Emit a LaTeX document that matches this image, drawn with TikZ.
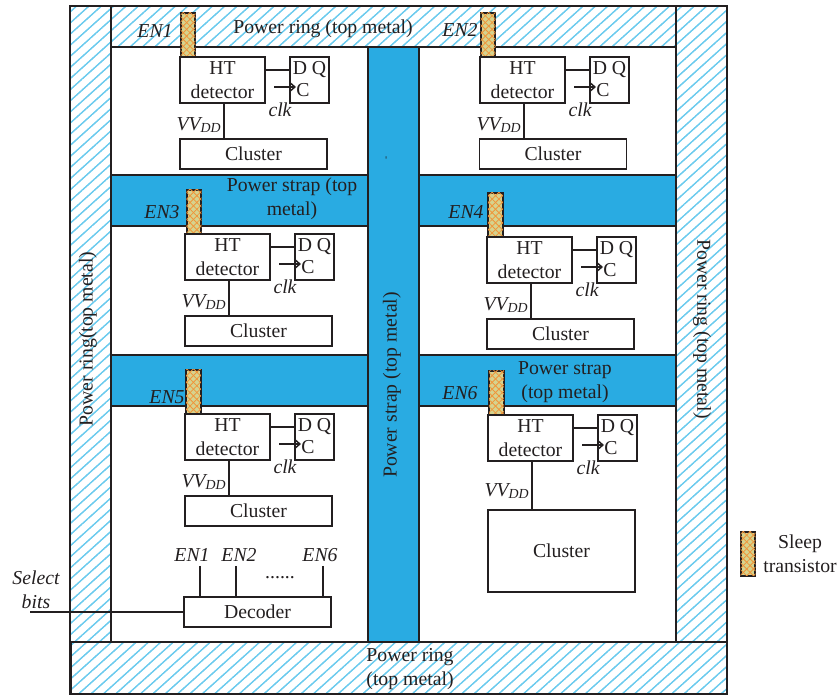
\documentclass[tikz,border=0pt]{standalone}
\usepackage{fontspec}
\setmainfont{Liberation Serif}
\usetikzlibrary{arrows.meta,patterns.meta}
\definecolor{hatchblue}{HTML}{6CCBEE}
\definecolor{strapblue}{HTML}{29ABE2}
\definecolor{sleepfill}{HTML}{D6D38E}
\definecolor{sleepline}{HTML}{F0953A}
\definecolor{inkgray}{HTML}{231F20}
\newcommand{\htunit}[4]{
  \begin{scope}[shift={(#2,#3)}]
    \node[box, minimum width=63.75pt, minimum height=34.5pt] (#1ht) at (42.5,23) {HT\\detector};
    \node[box, minimum width=29.25pt, minimum height=34.5pt] (#1ff) at (129.5,23) {};
    \node[lbl] (#1dq) at (129.5,13) {D Q};
    \node[lbl] (#1c)  at (123,33) {C};
    \node[ital] (#1clk) at (100,53) {clk};
    \node[ital] (#1vv)  at (19,#4) {$\mathit{VV}_{\mathit{DD}}$};
    \coordinate (#1cin) at (94,30);
    \coordinate (#1cend) at (116,30);
    \draw[wire] (#1ht.east |- #1dq) -- (#1ff.west |- #1dq);
    \draw[wire, -{Straight Barb[length=4pt,width=7pt]}] (#1cin) -- (#1cend);
  \end{scope}
}
\begin{document}
\begin{tikzpicture}[x=0.75pt, y=-0.75pt, font=\fontsize{14.8}{18}\selectfont, text=inkgray,
  ring/.style={draw=inkgray, line width=1.1pt, inner sep=0pt, pattern={Lines[angle=42,distance=6.2pt,line width=.9pt]}, pattern color=hatchblue},
  strap/.style={draw=inkgray, line width=1.1pt, fill=strapblue, inner sep=0pt},
  box/.style={draw=inkgray, line width=1.1pt, fill=white, align=center, inner sep=0pt},
  sleep/.style={draw=inkgray, line width=1.3pt, fill=sleepfill, inner sep=0pt, minimum width=11pt, minimum height=33pt,
    postaction={pattern={Lines[angle=45,distance=3.6pt,line width=.6pt]}, pattern color=sleepline},
    postaction={pattern={Lines[angle=-45,distance=3.6pt,line width=.6pt]}, pattern color=sleepline}},
  lbl/.style={inner sep=0pt, align=center},
  ital/.style={lbl, font=\fontsize{14.8}{18}\selectfont\itshape},
  wire/.style={draw=inkgray, line width=1.1pt}]
  \useasboundingbox (0,0) rectangle (840,698);
  \node[ring, minimum width=492.75pt, minimum height=516pt] (outer) at (398.5,350) {};
  \node[ring, minimum width=30.75pt, minimum height=477pt] (ringl) at (90.5,324) {};
  \node[ring, minimum width=38.25pt, minimum height=477pt] (ringr) at (701.5,324) {};
  \node[ring, minimum width=423.75pt, minimum height=30.75pt] (ringt) at (393.5,26.5) {};
  \node[ring, minimum width=492pt, minimum height=39pt] (ringb) at (399,668) {};
  \node[box, minimum width=423.75pt, minimum height=446.25pt] (core) at (393.5,344.5) {};
  \node[strap, minimum width=423.75pt, minimum height=38.25pt] (strapa) at (393.5,200.5) {};
  \node[strap, minimum width=423.75pt, minimum height=38.25pt] (strapb) at (393.5,380.5) {};
  \node[strap, minimum width=38.25pt, minimum height=446.25pt] (strapc) at (393.5,344.5) {};

  \node[lbl] (lblt) at (323,29) {Power ring (top metal)};
  \node[lbl] (lblb) at (410,669) {Power ring\\(top metal)};
  \node[lbl, rotate=90] (lbll) at (88,339) {Power ring(top metal)};
  \node[lbl, rotate=-90] (lblr) at (702,329) {Power ring (top metal)};
  \node[lbl, rotate=90] (lblc) at (392,385) {Power strap (top metal)};
  \node[lbl, rotate=90, font=\scriptsize] (lbltick) at (387,158) {-};
  \node[lbl] (lbla) at (292,199) {Power strap (top\\metal)};
  \node[lbl] (lblbb) at (565,382) {Power strap\\(top metal)};

  \node[sleep] (st1) at (188,35) {};
  \node[sleep] (st2) at (488,35) {};
  \node[sleep] (st3) at (194,212) {};
  \node[sleep] (st4) at (495.5,215) {};
  \node[sleep] (st5) at (193.5,392) {};
  \node[sleep] (st6) at (496.5,393) {};
  \node[ital] (en1) at (155,31) {EN1};
  \node[ital] (en2) at (460,30) {EN2};
  \node[ital] (en3) at (162,212) {EN3};
  \node[ital] (en4) at (466,212) {EN4};
  \node[ital] (en5) at (167,397) {EN5};
  \node[ital] (en6) at (460,393) {EN6};

  \htunit{a}{180}{57}{68}
  \htunit{b}{480}{57}{68}
  \htunit{c}{185}{234}{68}
  \htunit{d}{487}{237}{68}
  \htunit{e}{185}{414}{68}
  \htunit{f}{488}{415}{76}

  \node[box, minimum width=110.25pt, minimum height=22.5pt] (clua) at (253.5,154) {\raisebox{-1pt}{Cluster}};
  \node[box, minimum width=110.25pt, minimum height=22.5pt] (club) at (553,154) {\raisebox{-1pt}{Cluster}};
  \node[box, minimum width=110.25pt, minimum height=22.5pt] (cluc) at (258.5,331) {\raisebox{-1pt}{Cluster}};
  \node[box, minimum width=110.25pt, minimum height=22.5pt] (clud) at (560.5,334) {\raisebox{-1pt}{Cluster}};
  \node[box, minimum width=110.25pt, minimum height=22.5pt] (clue) at (258.5,511) {\raisebox{-1pt}{Cluster}};
  \node[box, minimum width=110.25pt, minimum height=61.5pt] (cluf) at (561.5,551) {Cluster};
  \draw[wire] (aht.south -| 224,0) -- (clua.north -| 224,0);
  \draw[wire] (bht.south -| 524,0) -- (club.north -| 524,0);
  \draw[wire] (cht.south -| 229,0) -- (cluc.north -| 229,0);
  \draw[wire] (dht.south -| 531,0) -- (clud.north -| 531,0);
  \draw[wire] (eht.south -| 229,0) -- (clue.north -| 229,0);
  \draw[wire] (fht.south -| 532,0) -- (cluf.north -| 532,0);

  \node[box, minimum width=110.25pt, minimum height=22.5pt] (dec) at (257.5,612) {Decoder};
  \node[ital] (deca) at (192,555) {EN1};
  \node[ital] (decb) at (239,555) {EN2};
  \node[ital] (decc) at (320,555) {EN6};
  \node[lbl] (dots) at (280,578) {......};
  \coordinate (ena) at (200,566);
  \coordinate (enb) at (236,566);
  \coordinate (enc) at (323,566);
  \coordinate (sel) at (30,612);
  \draw[wire] (ena) -- (ena |- dec.north);
  \draw[wire] (enb) -- (enb |- dec.north);
  \draw[wire] (enc) -- (enc |- dec.north);
  \draw[wire] (sel) -- (dec.west);
  \node[ital] (bits) at (36,590) {Select\\bits};

  \node[sleep] (stkey) at (748,554) {};
  \node[lbl] (keytxt) at (800,554) {Sleep\\transistor};
\end{tikzpicture}
\end{document}
